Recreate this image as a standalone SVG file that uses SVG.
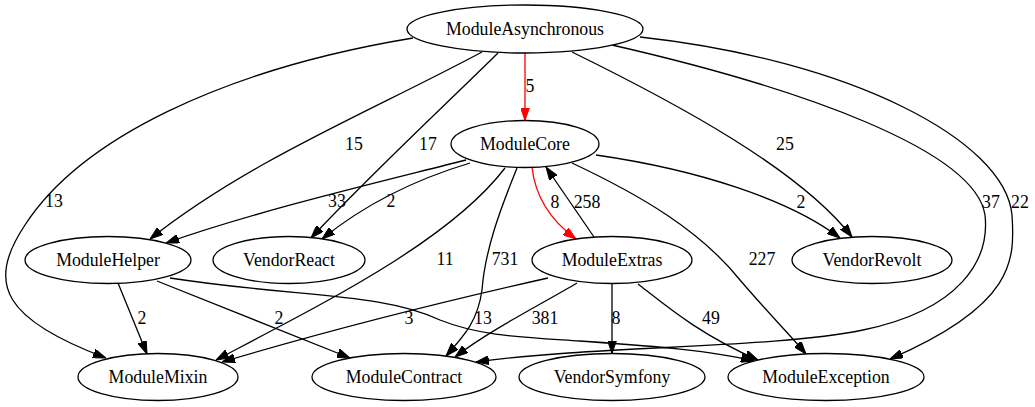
<svg xmlns="http://www.w3.org/2000/svg" width="1035" height="407" viewBox="0 0 1035 407">
<style>
.n ellipse{fill:#fff;stroke:#000;stroke-width:1.3}
text{font-family:"Liberation Serif","Times New Roman",serif;font-size:17.8px;fill:#000;text-anchor:middle}
.e path{fill:none;stroke:#000;stroke-width:1.3}
.e path.r{stroke:#f00}
</style>
<defs>
<marker id="ah" viewBox="0 0 13 9" refX="13" refY="4.5" markerWidth="13" markerHeight="9" markerUnits="userSpaceOnUse" orient="auto"><path d="M0,0 L13,4.5 L0,9 z" fill="#000" stroke="#000" stroke-width="1"/></marker>
<marker id="ahr" viewBox="0 0 13 9" refX="13" refY="4.5" markerWidth="13" markerHeight="9" markerUnits="userSpaceOnUse" orient="auto"><path d="M0,0 L13,4.5 L0,9 z" fill="#f00" stroke="#f00" stroke-width="1"/></marker>
</defs>
<rect width="1035" height="407" fill="#fff"/>
<g id="connectors" class="e">
<path marker-end="url(#ah)" d="M413,38 C220,70 80,140 25,225 C-15,285 5,320 106,358"/>
<text x="54" y="207">13</text>
<path marker-end="url(#ah)" d="M482,52 C370,112 250,160 150,239"/>
<text x="354" y="150">15</text>
<path marker-end="url(#ah)" d="M498,53 C440,110 370,175 311,238"/>
<text x="428" y="150">17</text>
<path class="r" marker-end="url(#ahr)" d="M525,53 L525,120.5"/>
<text x="530" y="92">5</text>
<path marker-end="url(#ah)" d="M572,52 C680,105 800,170 852,237"/>
<text x="785" y="150">25</text>
<path marker-end="url(#ah)" d="M612,45 C800,88 975,150 985,215 C990,260 960,310 863,330 C770,349 600,345 476,362"/>
<text x="991" y="208">37</text>
<path marker-end="url(#ah)" d="M640,37 C850,60 1005,140 1012,215 C1015,260 1015,305 890,359"/>
<text x="1020" y="208">22</text>
<path marker-end="url(#ah)" d="M466,160 C380,182 260,210 166,243"/>
<text x="337" y="207">33</text>
<path marker-end="url(#ah)" d="M470,163 C420,178 370,200 322,239"/>
<text x="391" y="207">2</text>
<path marker-end="url(#ah)" d="M505,168 C450,240 330,300 216,360"/>
<text x="445" y="265">11</text>
<path marker-end="url(#ah)" d="M548,278 C450,300 330,330 222,362"/>
<text x="409" y="324">3</text>
<path marker-end="url(#ah)" d="M517,168 C500,210 485,250 482,290 C478,320 465,335 446,356"/>
<text x="505" y="265">731</text>
<path marker-end="url(#ah)" d="M577,283 C540,305 490,330 455,357"/>
<text x="545" y="324">381</text>
<path marker-end="url(#ah)" d="M118,283 L147,354"/>
<text x="142" y="324">2</text>
<path marker-end="url(#ah)" d="M157,281 L350,358"/>
<text x="279" y="324">2</text>
<path marker-end="url(#ah)" d="M170,278 C300,298 380,292 440,320 C480,336 520,337 580,341 C650,346 710,350 754,361"/>
<text x="483" y="324">13</text>
<path class="r" marker-end="url(#ahr)" d="M532,167 C535,195 550,220 576,239"/>
<text x="555" y="208">8</text>
<path marker-end="url(#ah)" d="M594,237 L546,167"/>
<text x="587" y="208">258</text>
<path marker-end="url(#ah)" d="M596,155 C700,170 790,200 840,238"/>
<text x="801" y="208">2</text>
<path marker-end="url(#ah)" d="M572,163 C640,195 700,230 740,280 C770,315 790,335 806,354"/>
<text x="762" y="265">227</text>
<path marker-end="url(#ah)" d="M612,284 L612,353.5"/>
<text x="616" y="324">8</text>
<path marker-end="url(#ah)" d="M638,284 C665,305 700,335 758,360"/>
<text x="711" y="324">49</text>
</g>
<g id="ModuleAsynchronous" class="n"><ellipse cx="525" cy="29" rx="118" ry="24"/><text x="525" y="35">ModuleAsynchronous</text></g>
<g id="ModuleCore" class="n"><ellipse cx="525" cy="144" rx="74" ry="23.5"/><text x="525" y="150">ModuleCore</text></g>
<g id="ModuleHelper" class="n"><ellipse cx="108" cy="260" rx="83" ry="23.5"/><text x="108" y="266">ModuleHelper</text></g>
<g id="VendorReact" class="n"><ellipse cx="289" cy="260" rx="76" ry="23.5"/><text x="289" y="266">VendorReact</text></g>
<g id="ModuleExtras" class="n"><ellipse cx="612" cy="260" rx="80" ry="23.5"/><text x="612" y="266">ModuleExtras</text></g>
<g id="VendorRevolt" class="n"><ellipse cx="872" cy="260" rx="80" ry="23.5"/><text x="872" y="266">VendorRevolt</text></g>
<g id="ModuleMixin" class="n"><ellipse cx="158" cy="377" rx="80" ry="23.5"/><text x="158" y="382.5">ModuleMixin</text></g>
<g id="ModuleContract" class="n"><ellipse cx="404" cy="377" rx="92" ry="23.5"/><text x="404" y="382.5">ModuleContract</text></g>
<g id="VendorSymfony" class="n"><ellipse cx="612" cy="377" rx="93" ry="23.5"/><text x="612" y="382.5">VendorSymfony</text></g>
<g id="ModuleException" class="n"><ellipse cx="826" cy="377" rx="98" ry="23.5"/><text x="826" y="382.5">ModuleException</text></g>
</svg>
